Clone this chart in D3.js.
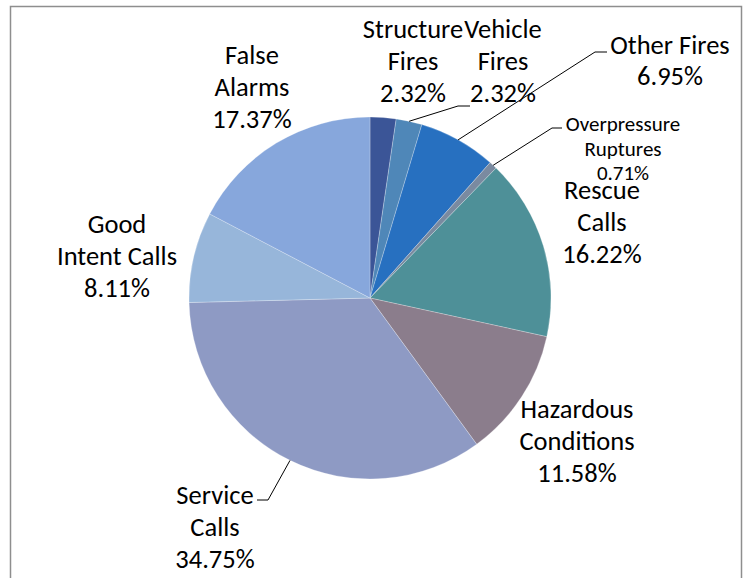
<!DOCTYPE html>
<html>
<head>
<meta charset="utf-8">
<script src="https://cdn.jsdelivr.net/npm/d3@7"></script>
<style>
  body { margin: 0; background: #fff; }
  svg { display: block; }
</style>
</head>
<body>
<div id="chart"></div>
<script>
// Data
const categories = ['Structure Fires', 'Vehicle Fires', 'Other Fires', 'Overpressure Ruptures',
  'Rescue Calls', 'Hazardous Conditions', 'Service Calls', 'Good Intent Calls', 'False Alarms'];
const percents = [2.32, 2.32, 6.95, 0.71, 16.22, 11.58, 34.75, 8.11, 17.37];
const labelLines = [['Structure', 'Fires'], ['Vehicle', 'Fires'], ['Other Fires'], ['Overpressure', 'Ruptures'],
  ['Rescue', 'Calls'], ['Hazardous', 'Conditions'], ['Service', 'Calls'], ['Good', 'Intent Calls'], ['False', 'Alarms']];
const colors = ['#3b5597', '#4f87b8', '#2770c0', '#7a8aa0', '#4e9098', '#8b7d8c', '#8e9ac4', '#97b6da', '#87a7dc'];

const data = categories.map((name, i) => ({ name, value: percents[i], lines: labelLines[i], color: colors[i] }));

// Canvas
const width = 748;
const height = 578;

const svg = d3.select('#chart')
  .append('svg')
  .attr('width', width)
  .attr('height', height);

// chart area border (bottom runs off the page)
svg.append('path')
  .attr('d', `M10.5,${height + 5} V6.5 H741.5 V${height + 5}`)
  .attr('fill', 'none')
  .attr('stroke', '#8e8e8e')
  .attr('stroke-width', 1.5);

const cx = 370;
const cy = 298;
const radius = 181;

const pie = d3.pie().sort(null).value((d) => d.value);
const arc = d3.arc().innerRadius(0).outerRadius(radius);
const arcs = pie(data);

const chart = svg.append('g').attr('transform', `translate(${cx}, ${cy})`);

chart.selectAll('path.slice')
  .data(arcs).enter()
  .append('path')
  .attr('class', 'slice')
  .attr('d', arc)
  .attr('fill', (d) => d.data.color)
  .attr('stroke', 'rgba(255,255,255,0.5)')
  .attr('stroke-width', 0.5);

// Label layout (centre of text block, page coords) and font size
const labelPos = {
  'Structure Fires': { x: 413, y: 29, size: 26.5 },
  'Vehicle Fires': { x: 503, y: 29, size: 26.5 },
  'Other Fires': { x: 670, y: 45, size: 26.5, lh: 31 },
  'Overpressure Ruptures': { x: 623, y: 124, size: 21, lh: 24.5 },
  'Rescue Calls': { x: 602, y: 190, size: 26.5 },
  'Hazardous Conditions': { x: 577, y: 409, size: 26.5 },
  'Service Calls': { x: 215, y: 495, size: 26.5 },
  'Good Intent Calls': { x: 117, y: 224, size: 26.5 },
  'False Alarms': { x: 252, y: 55, size: 26.5 }
};

// Leader line bends (page coords) for labels that sit away from their slice
const leaders = {
  'Vehicle Fires': [[458, 106], [470, 106]],
  'Other Fires': [[595, 52], [607, 52]],
  'Overpressure Ruptures': [[552, 128], [562, 128]],
  'Service Calls': [[268, 500], [257, 500]]
};

const edge = d3.arc().innerRadius(radius).outerRadius(radius);

Object.keys(leaders).forEach((name) => {
  const a = arcs.find((d) => d.data.name === name);
  const [sx, sy] = edge.centroid(a);
  const pts = [[sx + cx, sy + cy], ...leaders[name]];
  svg.append('path')
    .attr('d', d3.line()(pts))
    .attr('fill', 'none')
    .attr('stroke', '#000')
    .attr('stroke-width', 1);
});

const labels = svg.append('g')
  .attr('font-family', 'Carlito, Calibri, Lato, sans-serif')
  .attr('fill', '#000')
  .attr('text-anchor', 'middle');

arcs.forEach((a) => {
  const p = labelPos[a.data.name];
  const lh = p.lh || 32;
  const rows = [...a.data.lines, `${a.data.value.toFixed(2)}%`];
  const t = labels.append('text')
    .attr('font-size', p.size)
    .attr('dominant-baseline', 'central');
  rows.forEach((row, i) => {
    t.append('tspan')
      .attr('x', p.x)
      .attr('y', p.y + i * lh)
      .text(row);
  });
});
</script>
</body>
</html>
